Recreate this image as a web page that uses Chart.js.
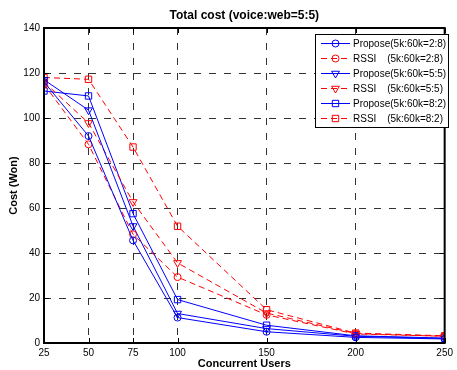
<!DOCTYPE html>
<html>
<head>
<meta charset="utf-8">
<script src="https://cdn.jsdelivr.net/npm/chart.js@4.4.0/dist/chart.umd.min.js"></script>
<style>
  html, body { margin: 0; padding: 0; background: #fff; }
  #wrap { width: 457px; height: 370px; }
</style>
</head>
<body>
<div id="wrap"><canvas id="costChart" width="457" height="370"></canvas></div>
<script>
const users = [25, 50, 75, 100, 150, 200, 250];
const yTicks = [0, 20, 40, 60, 80, 100, 120, 140];

const propose28 = [116, 92, 45.6, 11.3, 5, 2.5, 1.8];
const rssi28 = [115, 88.3, 48.3, 29.3, 12.5, 4, 3];
const propose55 = [117, 103.5, 52, 13.1, 6.4, 3, 2];
const rssi55 = [116, 97.8, 62.7, 35.6, 13.3, 4.2, 3];
const propose82 = [112, 109.8, 57.5, 19.3, 7.9, 3.2, 2.2];
const rssi82 = [118, 117.2, 87.1, 51.9, 14.8, 4.4, 3.2];

const BLUE = '#0000ff';
const RED = '#ff0000';
const FONT = '"Liberation Sans", Arial, sans-serif';

const series = [
  { name: 'Propose(5k:60k=2:8)', tag: '', data: propose28, color: BLUE, dash: [], marker: 'circle', r: 3.5, rot: 0 },
  { name: 'RSSI', tag: '(5k:60k=2:8)', data: rssi28, color: RED, dash: [6, 4], marker: 'circle', r: 3.5, rot: 0 },
  { name: 'Propose(5k:60k=5:5)', tag: '', data: propose55, color: BLUE, dash: [], marker: 'triangle', r: 4.5, rot: 180 },
  { name: 'RSSI', tag: '(5k:60k=5:5)', data: rssi55, color: RED, dash: [6, 4], marker: 'triangle', r: 4.5, rot: 180 },
  { name: 'Propose(5k:60k=8:2)', tag: '', data: propose82, color: BLUE, dash: [], marker: 'rect', r: 4.5, rot: 0 },
  { name: 'RSSI', tag: '(5k:60k=8:2)', data: rssi82, color: RED, dash: [6, 4], marker: 'rect', r: 4.5, rot: 0 }
];

// frame, titles and matlab-style legend
const decorations = {
  id: 'decorations',
  afterDraw(chart) {
    const ctx = chart.ctx;
    const a = chart.chartArea;
    const xs = chart.scales.x, ys = chart.scales.y;
    ctx.save();
    ctx.strokeStyle = '#000';
    ctx.lineWidth = 2;
    ctx.setLineDash([]);
    ctx.strokeRect(a.left, a.top, a.right - a.left, a.bottom - a.top);
    // inward ticks
    ctx.lineWidth = 1;
    ctx.beginPath();
    users.forEach(u => {
      const px = Math.round(xs.getPixelForValue(u)) + 0.5;
      ctx.moveTo(px, a.bottom); ctx.lineTo(px, a.bottom - 5);
      ctx.moveTo(px, a.top); ctx.lineTo(px, a.top + 5);
    });
    yTicks.forEach(v => {
      const py = Math.round(ys.getPixelForValue(v)) + 0.5;
      ctx.moveTo(a.left, py); ctx.lineTo(a.left + 5, py);
      ctx.moveTo(a.right, py); ctx.lineTo(a.right - 5, py);
    });
    ctx.stroke();

    // titles
    ctx.fillStyle = '#000';
    ctx.textAlign = 'center';
    ctx.textBaseline = 'middle';
    ctx.font = 'bold 12px ' + FONT;
    ctx.fillText('Total cost (voice:web=5:5)', (a.left + a.right) / 2, 16);
    ctx.font = 'bold 11px ' + FONT;
    ctx.fillText('Concurrent Users', (a.left + a.right) / 2, 364);
    ctx.save();
    ctx.translate(14, (a.top + a.bottom) / 2);
    ctx.rotate(-Math.PI / 2);
    ctx.fillText('Cost (Won)', 0, 0);
    ctx.restore();

    // legend box
    const bx = 315, by = 34, bw = 133, bh = 93;
    ctx.fillStyle = '#fff';
    ctx.fillRect(bx, by, bw, bh);
    ctx.strokeStyle = '#000';
    ctx.strokeRect(bx + 0.5, by + 0.5, bw, bh);
    ctx.font = '10px ' + FONT;
    series.forEach((s, i) => {
      const cy = by + 9.5 + i * 15;
      ctx.strokeStyle = s.color;
      ctx.setLineDash(s.dash);
      ctx.beginPath();
      ctx.moveTo(321, cy); ctx.lineTo(350, cy);
      ctx.stroke();
      ctx.setLineDash([]);
      ctx.fillStyle = 'rgba(0,0,0,0)';
      Chart.helpers.drawPoint(ctx, {
        pointStyle: s.marker, radius: s.r, rotation: s.rot, borderWidth: 1
      }, 335.5, cy);
      ctx.fillStyle = '#000';
      ctx.textAlign = 'left';
      ctx.fillText(s.name, 353, cy + 0.5);
      if (s.tag) {
        ctx.textAlign = 'right';
        ctx.fillText(s.tag, 443, cy + 0.5);
      }
    });
    ctx.restore();
  }
};

new Chart(document.getElementById('costChart').getContext('2d'), {
  type: 'line',
  data: {
    datasets: series.map(s => ({
      label: s.name + ' ' + s.tag,
      data: users.map((u, i) => ({ x: u, y: s.data[i] })),
      borderColor: s.color,
      backgroundColor: 'rgba(0,0,0,0)',
      borderWidth: 1,
      borderDash: s.dash,
      pointStyle: s.marker,
      pointRadius: s.r,
      pointRotation: s.rot,
      pointBorderColor: s.color,
      pointBackgroundColor: 'rgba(0,0,0,0)',
      pointBorderWidth: 1,
      tension: 0,
      fill: false
    }))
  },
  options: {
    responsive: false,
    animation: false,
    layout: { padding: { top: 28, right: 7, left: 0, bottom: 0 } },
    plugins: { legend: { display: false }, tooltip: { enabled: false } },
    scales: {
      x: {
        type: 'linear',
        min: 25,
        max: 250,
        afterBuildTicks: scale => { scale.ticks = users.map(v => ({ value: v })); },
        afterFit: scale => { scale.height = 27; },
        grid: { color: '#333', lineWidth: 1, drawTicks: false },
        border: { display: false, dash: [7, 8] },
        ticks: { color: '#000', padding: 4, font: { family: FONT, size: 10 }, maxRotation: 0 }
      },
      y: {
        min: 0,
        max: 140,
        afterBuildTicks: scale => { scale.ticks = yTicks.map(v => ({ value: v })); },
        afterFit: scale => { scale.width = 44; },
        grid: { color: '#333', lineWidth: 1, drawTicks: false },
        border: { display: false, dash: [7, 8] },
        ticks: { color: '#000', padding: 4, font: { family: FONT, size: 10 } }
      }
    }
  },
  plugins: [decorations]
});
</script>
</body>
</html>
